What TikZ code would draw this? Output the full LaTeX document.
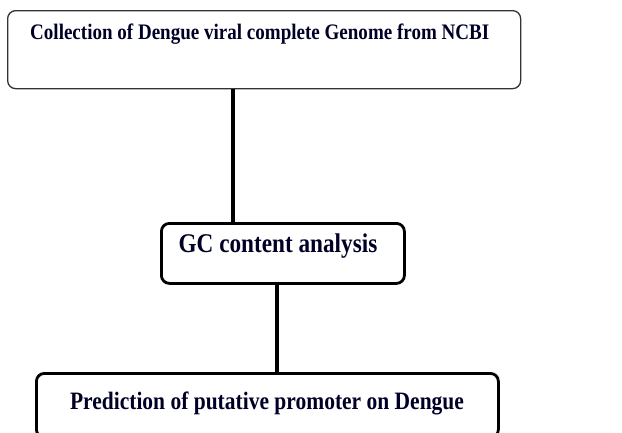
\documentclass[tikz,border=0pt]{standalone}
\usepackage{fontspec}
\setmainfont{Liberation Serif}
\begin{document}
\begin{tikzpicture}[x=1pt,y=-1pt,
  thinbox/.style={draw=black!80, line width=1.3pt, rounded corners=8pt, fill=white, inner sep=0pt},
  thickbox/.style={draw=black, line width=2.8pt, rounded corners=8pt, fill=white, inner sep=0pt},
  lbl/.style={inner sep=0pt, text=black!85!blue},
  conn/.style={line width=4pt, draw=black}]
\useasboundingbox (0,0) rectangle (622,432);
\coordinate (c1) at (233,0);
\coordinate (c2) at (277,0);
\node[thinbox, minimum width=513pt, minimum height=78pt, anchor=north west] (top) at (7,10) {};
\node[thickbox, minimum width=243pt, minimum height=60pt, anchor=north west] (gc) at (160,222) {};
\node[thickbox, minimum width=462pt, minimum height=64pt, anchor=north west] (pred) at (35,372) {};
\draw[conn] (top.south -| c1) -- (gc.north -| c1);
\draw[conn] (gc.south -| c2) -- (pred.north -| c2);
\node[lbl, anchor=west, font=\fontsize{22}{26}\selectfont\bfseries] (toptext) at (30,34) {\resizebox{459pt}{!}{\scalebox{0.86}[1]{Collection of Dengue viral complete Genome from NCBI}}};
\node[lbl, font=\fontsize{27}{30}\selectfont\bfseries] (gctext) at (278,246) {\scalebox{0.86}[1]{GC content analysis}};
\node[lbl, font=\fontsize{25}{28}\selectfont\bfseries] (predtext) at (267,403) {\scalebox{0.86}[1]{Prediction of putative promoter on Dengue}};
\end{tikzpicture}
\end{document}
